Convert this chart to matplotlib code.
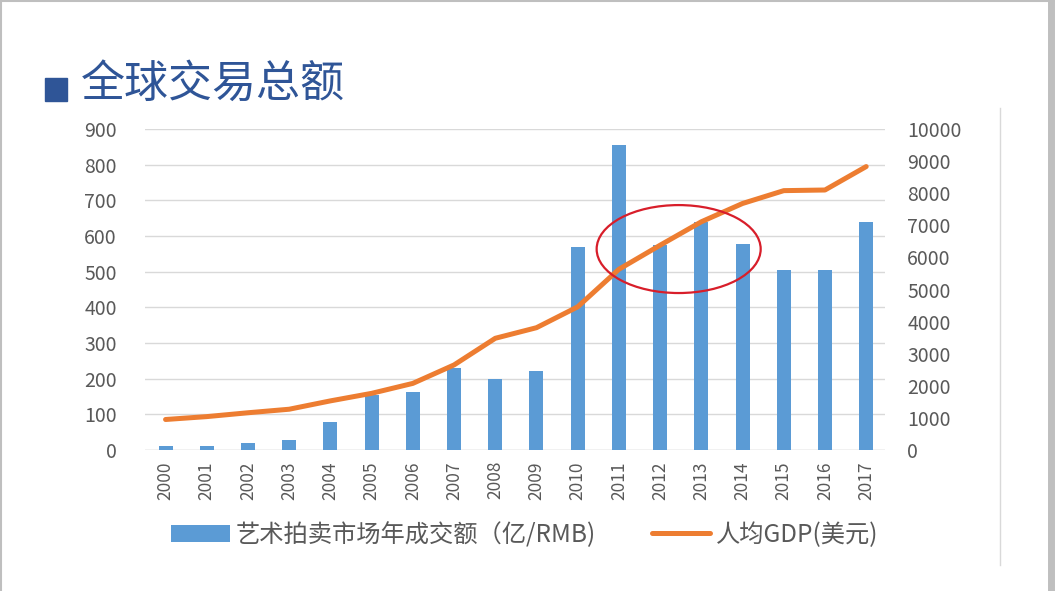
import matplotlib.pyplot as plt
from matplotlib.patches import Ellipse, Rectangle
from matplotlib.lines import Line2D

plt.rcParams['font.family'] = ['Noto Sans CJK SC', 'DejaVu Sans']

# data
years = ['2000', '2001', '2002', '2003', '2004', '2005', '2006', '2007', '2008',
         '2009', '2010', '2011', '2012', '2013', '2014', '2015', '2016', '2017']
auction = [12, 12, 20, 28, 78, 155, 163, 229, 200,
           221, 570, 855, 575, 640, 578, 505, 505, 640]
gdp = [950, 1040, 1160, 1270, 1530, 1765, 2075, 2650, 3480,
       3810, 4460, 5630, 6380, 7110, 7680, 8080, 8100, 8830]

bar_label = '艺术拍卖市场年成交额（亿/RMB)'
line_label = '人均GDP(美元)'
title = '全球交易总额'

# highlight ellipse (x in category index, y on right axis)
ell_center = (12.45, 6260)
ell_size = (3.98, 2740)

fig = plt.figure(figsize=(10.55, 5.91), dpi=100)
ax = fig.add_axes([0.137, 0.2386, 0.702, 0.5431])
ax2 = ax.twinx()

x = list(range(len(years)))
ax.bar(x, auction, width=0.34, color='#5B9BD5', label=bar_label, zorder=2)
ax2.plot(x, gdp, color='#ED7D31', lw=3.6, solid_capstyle='round', label=line_label, zorder=3)

ax.set_xlim(-0.51, 17.46)
ax.set_ylim(0, 900)
ax2.set_ylim(0, 10000)
ax.set_yticks(range(0, 901, 100))
ax2.set_yticks(range(0, 10001, 1000))
ax.set_xticks(x)
ax.set_xticklabels(years, rotation=90)

ax.grid(axis='y', color='#D9D9D9', lw=1, zorder=0)
ax.set_axisbelow(True)
for a in (ax, ax2):
    for s in a.spines.values():
        s.set_visible(False)
    a.tick_params(length=0, colors='#595959', labelsize=14)
ax.tick_params(axis='y', pad=20)
ax2.tick_params(axis='y', pad=16)
ax.tick_params(axis='x', pad=8, labelsize=12.5)
ax.axhline(0, color='#D9D9D9', lw=1, zorder=1)

ax2.add_patch(Ellipse(ell_center, ell_size[0], ell_size[1],
                      fill=False, edgecolor='#D81E2A', lw=1.6, zorder=5))

h1, l1 = ax.get_legend_handles_labels()
h2, l2 = ax2.get_legend_handles_labels()
fig.legend(h1 + h2, l1 + l2, loc='center', bbox_to_anchor=(0.4976, 0.0948), ncol=2,
           frameon=False, fontsize=17.5, labelcolor='#595959', columnspacing=2.3,
           handlelength=2.4, handletextpad=0.25)

# title with square bullet
fig.patches.append(Rectangle((45 / 1055, 1 - 101 / 591), 22 / 1055, 23 / 591,
                             transform=fig.transFigure, color='#2F5597'))
fig.text(81 / 1055, 1 - 84 / 591, title, fontsize=31.7, color='#2F5597', va='center', ha='left')

# slide frame lines
fig.add_artist(Line2D([0, 1], [0.999, 0.999], transform=fig.transFigure, color='#BFBFBF', lw=1.5))
fig.add_artist(Line2D([0.001, 0.001], [0, 1], transform=fig.transFigure, color='#BFBFBF', lw=1.5))
fig.add_artist(Line2D([0.996, 0.996], [0, 1], transform=fig.transFigure, color='#BFBFBF', lw=5))
fig.add_artist(Line2D([1000 / 1055, 1000 / 1055], [1 - 565 / 591, 1 - 108 / 591],
                      transform=fig.transFigure, color='#D9D9D9', lw=1))

fig.savefig('out.png', dpi=100)
